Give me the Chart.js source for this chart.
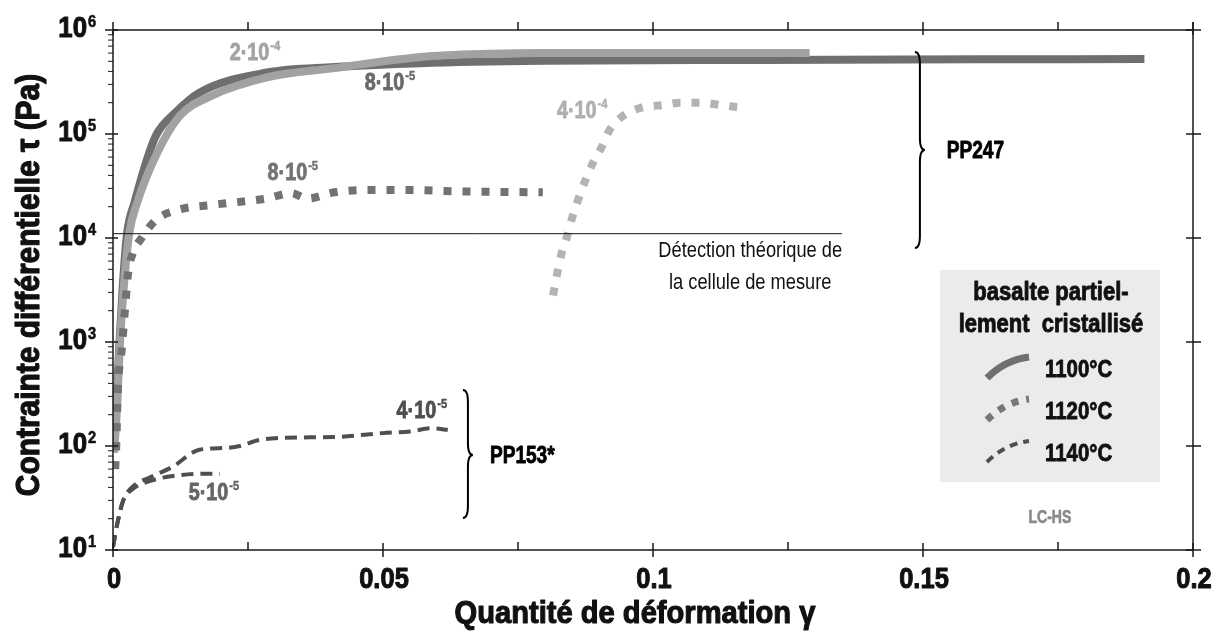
<!DOCTYPE html>
<html>
<head>
<meta charset="utf-8">
<script src="https://cdn.jsdelivr.net/npm/chart.js@4.4.1/dist/chart.umd.min.js"></script>
<style>
    html, body { margin: 0; padding: 0; background: #fff; }
    #wrap { width: 1224px; height: 634px; }
</style>
</head>
<body>
<div id="wrap"><canvas id="strainChart"></canvas></div>
<script>
// Axis ticks
const xMajorTicks = [0, 0.05, 0.1, 0.15, 0.2];
const xTickLabels = ['0', '0.05', '0.1', '0.15', '0.2'];
const xMinorTicks = [0.025, 0.075, 0.125, 0.175];
const yDecadeExponents = [1, 2, 3, 4, 5, 6];

// PP247 - 1100°C, strain rate 8e-5 (dark solid)
const strain1100Slow = [0.0001, 0.0007, 0.0012, 0.0018, 0.0026, 0.004, 0.0067, 0.0081, 0.0115, 0.016, 0.0285, 0.041, 0.057, 0.08, 0.12, 0.16, 0.191];
const stress1100Slow = [90, 300, 1000, 3400, 11000, 22000, 66000, 100000, 160000, 250000, 390000, 440000, 480000, 505000, 515000, 522000, 525000];

// PP247 - 1100°C, strain rate 2e-4 (light solid)
const strain1100Fast = [0.0002, 0.0008, 0.0013, 0.002, 0.003, 0.0045, 0.0082, 0.0124, 0.018, 0.0285, 0.041, 0.057, 0.07, 0.08, 0.129];
const stress1100Fast = [86, 260, 1000, 3400, 11000, 22000, 66000, 150000, 230000, 350000, 430000, 550000, 590000, 600000, 600000];

// PP247 - 1120°C, strain rate 8e-5
const strain1120Slow = [0.0004, 0.0006, 0.0009, 0.0016, 0.0022, 0.0028, 0.0037, 0.0053, 0.008, 0.0118, 0.019, 0.0285, 0.033, 0.036, 0.041, 0.047, 0.054, 0.065, 0.0796];
const stress1120Slow = [60, 100, 350, 830, 2000, 4600, 7200, 10000, 15000, 18500, 21000, 24000, 27000, 24000, 27500, 29000, 29000, 28000, 27500];

// PP247 - 1120°C, strain rate 4e-4
const strain1120Fast = [0.0815, 0.0822, 0.083, 0.084, 0.085, 0.0861, 0.0874, 0.0889, 0.0905, 0.092, 0.0942, 0.098, 0.102, 0.105, 0.109, 0.1125, 0.116];
const stress1120Fast = [2800, 4400, 6900, 10000, 15500, 23000, 35000, 53000, 75000, 110000, 146000, 180000, 190000, 200000, 200000, 190000, 180000];

// PP153* - 1140°C, strain rate 4e-5
const strain1140A = [0, 0.0009, 0.0019, 0.0035, 0.0069, 0.011, 0.016, 0.021, 0.0235, 0.027, 0.0315, 0.041, 0.05, 0.055, 0.059, 0.062];
const stress1140A = [10.7, 19, 30, 40, 50, 63, 92, 96, 100, 114, 120, 122, 133, 138, 148, 143];

// PP153* - 1140°C, strain rate 5e-5
const strain1140B = [0, 0.0009, 0.0019, 0.0035, 0.0074, 0.0118, 0.016, 0.0198];
const stress1140B = [10.7, 19, 30, 38, 47, 52, 54, 54];

// theoretical detection limit of the load cell
const detectionStrain = [0, 0.135];
const detectionStress = [11000, 11000];

const FONT = '"Liberation Sans", Arial, sans-serif';

function pts(xs, ys) {
    return xs.map((v, i) => ({ x: v, y: ys[i] }));
}

// draws horizontally squeezed text (condensed look), returns drawn width
function ctext(ctx, text, x, y, o) {
    const weight = o.weight || 'bold';
    ctx.save();
    ctx.font = weight + ' ' + o.size + 'px ' + FONT;
    ctx.fillStyle = o.color || '#111';
    ctx.strokeStyle = o.color || '#111';
    ctx.textAlign = o.align || 'left';
    ctx.textBaseline = o.baseline || 'alphabetic';
    ctx.translate(x, y);
    if (o.rotate) ctx.rotate(o.rotate);
    ctx.scale(o.sx || 1, 1);
    ctx.fillText(text, 0, 0);
    if (weight === 'bold') {
        // heavier strokes, closer to the condensed bold face of the original
        ctx.lineWidth = o.size / 28;
        ctx.lineJoin = 'round';
        ctx.strokeText(text, 0, 0);
    }
    const w = ctx.measureText(text).width * (o.sx || 1);
    ctx.restore();
    return w;
}

function textWidth(ctx, text, size, sx, weight) {
    ctx.save();
    ctx.font = (weight || 'bold') + ' ' + size + 'px ' + FONT;
    const w = ctx.measureText(text).width * sx;
    ctx.restore();
    return w;
}

// rate labels placed in data coordinates
const rateLabels = [
    { base: '2·10', sup: '-4', x: 0.0263, y: 515000, color: '#a3a3a3' },
    { base: '8·10', sup: '-5', x: 0.0513, y: 265000, color: '#6a6a6a' },
    { base: '8·10', sup: '-5', x: 0.0333, y: 36100, color: '#747474' },
    { base: '4·10', sup: '-4', x: 0.0869, y: 142500, color: '#b0b0b0' },
    { base: '4·10', sup: '-5', x: 0.0572, y: 186, color: '#4f4f4f' },
    { base: '5·10', sup: '-5', x: 0.0187, y: 30, color: '#666666' }
];

function drawRate(ctx, lab, px, py) {
    const w1 = textWidth(ctx, lab.base, 23, 0.86);
    const w2 = textWidth(ctx, lab.sup, 13, 0.86);
    const left = px - (w1 + w2 + 1) / 2;
    ctext(ctx, lab.base, left, py, { size: 23, sx: 0.86, color: lab.color });
    ctext(ctx, lab.sup, left + w1 + 1, py - 10, { size: 13, sx: 0.86, color: lab.color });
}

function drawBrace(ctx, x, y1, y2, ym, w) {
    const h = w / 2, r = 12;
    ctx.beginPath();
    ctx.moveTo(x, y1);
    ctx.quadraticCurveTo(x + h, y1, x + h, y1 + r);
    ctx.lineTo(x + h, ym - r);
    ctx.quadraticCurveTo(x + h, ym, x + w, ym);
    ctx.quadraticCurveTo(x + h, ym, x + h, ym + r);
    ctx.lineTo(x + h, y2 - r);
    ctx.quadraticCurveTo(x + h, y2, x, y2);
    ctx.stroke();
}

const decorations = {
    id: 'decorations',
    afterDraw(chart) {
        const { ctx, chartArea: a, scales: { x, y } } = chart;
        ctx.save();

        // frame
        ctx.strokeStyle = '#1a1a1a';
        ctx.lineWidth = 1.5;
        ctx.strokeRect(a.left, a.top, a.right - a.left, a.bottom - a.top);
        ctx.beginPath();
        ctx.moveTo(a.right, a.top);
        ctx.lineTo(a.right, a.top - 8);
        ctx.stroke();

        // x ticks top / bottom
        ctx.beginPath();
        xMajorTicks.forEach(v => {
            const px = x.getPixelForValue(v);
            ctx.moveTo(px, a.bottom - 7); ctx.lineTo(px, a.bottom + 7);
            ctx.moveTo(px, a.top - 8); ctx.lineTo(px, a.top + 5);
        });
        xMinorTicks.forEach(v => {
            const px = x.getPixelForValue(v);
            ctx.moveTo(px, a.bottom - 8); ctx.lineTo(px, a.bottom);
            ctx.moveTo(px, a.top - 8); ctx.lineTo(px, a.top);
        });
        // y ticks left / right
        yDecadeExponents.forEach(e => {
            const py = y.getPixelForValue(Math.pow(10, e));
            ctx.moveTo(a.left - 8, py); ctx.lineTo(a.left + 5, py);
            ctx.moveTo(a.right - 7, py); ctx.lineTo(a.right + 8, py);
        });
        ctx.stroke();
        ctx.lineWidth = 1;
        ctx.beginPath();
        yDecadeExponents.slice(0, -1).forEach(e => {
            for (let k = 2; k <= 9; k++) {
                const py = y.getPixelForValue(k * Math.pow(10, e));
                ctx.moveTo(a.left - 5, py); ctx.lineTo(a.left, py);
            }
        });
        ctx.stroke();

        // x tick labels
        xMajorTicks.forEach((v, i) => {
            ctext(ctx, xTickLabels[i], x.getPixelForValue(v) + 1, a.bottom + 38, { size: 30, sx: 0.85, align: 'center' });
        });

        // y tick labels 10^n
        yDecadeExponents.forEach(e => {
            const py = y.getPixelForValue(Math.pow(10, e));
            ctext(ctx, '10', a.left - 26, py + 7, { size: 30, sx: 0.86, align: 'right' });
            ctext(ctx, String(e), a.left - 25, py - 3, { size: 17, sx: 0.86 });
        });

        // axis titles
        ctext(ctx, 'Quantité de déformation γ', 635, 623, { size: 32, sx: 0.91, align: 'center' });
        ctext(ctx, 'Contrainte différentielle τ (Pa)', 39, 285, { size: 34, sx: 0.88, align: 'center', rotate: -Math.PI / 2 });

        // strain-rate labels
        rateLabels.forEach(l => drawRate(ctx, l, x.getPixelForValue(l.x), y.getPixelForValue(l.y)));

        // sample braces
        ctx.strokeStyle = '#000';
        ctx.lineWidth = 2;
        drawBrace(ctx, x.getPixelForValue(0.1485), y.getPixelForValue(614000), y.getPixelForValue(8020), y.getPixelForValue(70200), 10);
        drawBrace(ctx, x.getPixelForValue(0.0648), y.getPixelForValue(345), y.getPixelForValue(20.3), y.getPixelForValue(81.8), 10);
        ctext(ctx, 'PP247', x.getPixelForValue(0.1544), y.getPixelForValue(58800), { size: 23, sx: 0.83, color: '#000' });
        ctext(ctx, 'PP153*', x.getPixelForValue(0.0698), y.getPixelForValue(68.7), { size: 23, sx: 0.83, color: '#000' });

        // detection limit note
        ctext(ctx, 'Détection théorique de', x.getPixelForValue(0.118), y.getPixelForValue(6560), { size: 22, sx: 0.83, weight: 'normal', align: 'center' });
        ctext(ctx, 'la cellule de mesure', x.getPixelForValue(0.118), y.getPixelForValue(3240), { size: 22, sx: 0.83, weight: 'normal', align: 'center' });

        // legend box
        const L = { left: 940, top: 270, width: 220, height: 212 };
        ctx.fillStyle = '#ebebed';
        ctx.fillRect(L.left, L.top, L.width, L.height);
        ctext(ctx, 'basalte partiel-', L.left + 111, L.top + 30, { size: 25, sx: 0.88, align: 'center' });
        ctext(ctx, 'lement  cristallisé', L.left + 111, L.top + 62, { size: 25, sx: 0.88, align: 'center' });
        const entries = [
            { label: '1100°C', color: '#707070', width: 7, dash: [] },
            { label: '1120°C', color: '#777777', width: 7, dash: [7, 8] },
            { label: '1140°C', color: '#4f4f4f', width: 4, dash: [8, 6] }
        ];
        entries.forEach((en, i) => {
            const cy = L.top + 98 + i * 42;
            ctx.save();
            ctx.strokeStyle = en.color;
            ctx.lineWidth = en.width;
            ctx.setLineDash(en.dash);
            ctx.beginPath();
            ctx.moveTo(L.left + 47, cy + 10);
            ctx.quadraticCurveTo(L.left + 65, cy - 8, L.left + 89, cy - 11);
            ctx.stroke();
            ctx.restore();
            ctext(ctx, en.label, L.left + 105, cy + 9, { size: 24, sx: 0.85 });
        });
        ctext(ctx, 'LC-HS', x.getPixelForValue(0.1735), y.getPixelForValue(18.2), { size: 18, sx: 0.78, color: '#8a8a8a', align: 'center' });

        ctx.restore();
    }
};

const lineBase = {
    pointRadius: 0,
    fill: false,
    cubicInterpolationMode: 'monotone',
    borderCapStyle: 'butt',
    borderJoinStyle: 'round'
};

new Chart(document.getElementById('strainChart'), {
    type: 'line',
    data: {
        datasets: [
            Object.assign({}, lineBase, { label: 'limite de détection', data: pts(detectionStrain, detectionStress), borderColor: '#111', borderWidth: 1, cubicInterpolationMode: 'default', order: 0 }),
            Object.assign({}, lineBase, { label: '1140°C 5e-5', data: pts(strain1140B, stress1140B), borderColor: '#4f4f4f', borderWidth: 4, borderDash: [12, 7], order: 1 }),
            Object.assign({}, lineBase, { label: '1140°C 4e-5', data: pts(strain1140A, stress1140A), borderColor: '#4f4f4f', borderWidth: 4, borderDash: [12, 7], order: 2 }),
            Object.assign({}, lineBase, { label: '1120°C 4e-4', data: pts(strain1120Fast, stress1120Fast), borderColor: '#b3b3b3', borderWidth: 8, borderDash: [8, 11], order: 3 }),
            Object.assign({}, lineBase, { label: '1120°C 8e-5', data: pts(strain1120Slow, stress1120Slow), borderColor: '#727272', borderWidth: 8, borderDash: [8, 11], order: 4 }),
            Object.assign({}, lineBase, { label: '1100°C 2e-4', data: pts(strain1100Fast, stress1100Fast), borderColor: '#a2a2a2', borderWidth: 8, order: 5 }),
            Object.assign({}, lineBase, { label: '1100°C 8e-5', data: pts(strain1100Slow, stress1100Slow), borderColor: '#6f6f6f', borderWidth: 8, order: 6 })
        ]
    },
    options: {
        responsive: true,
        maintainAspectRatio: false,
        animation: false,
        layout: { padding: { left: 0, right: 31, top: 30, bottom: 0 } },
        plugins: {
            legend: { display: false },
            tooltip: { enabled: false }
        },
        scales: {
            x: {
                type: 'linear',
                min: 0,
                max: 0.2,
                grid: { display: false },
                border: { display: false },
                afterFit: scale => { scale.height = 84; },
                ticks: { display: false }
            },
            y: {
                type: 'logarithmic',
                min: 10,
                max: 1000000,
                grid: { display: false },
                border: { display: false },
                afterFit: scale => { scale.width = 113; },
                ticks: { display: false }
            }
        }
    },
    plugins: [decorations]
});
</script>
</body>
</html>
